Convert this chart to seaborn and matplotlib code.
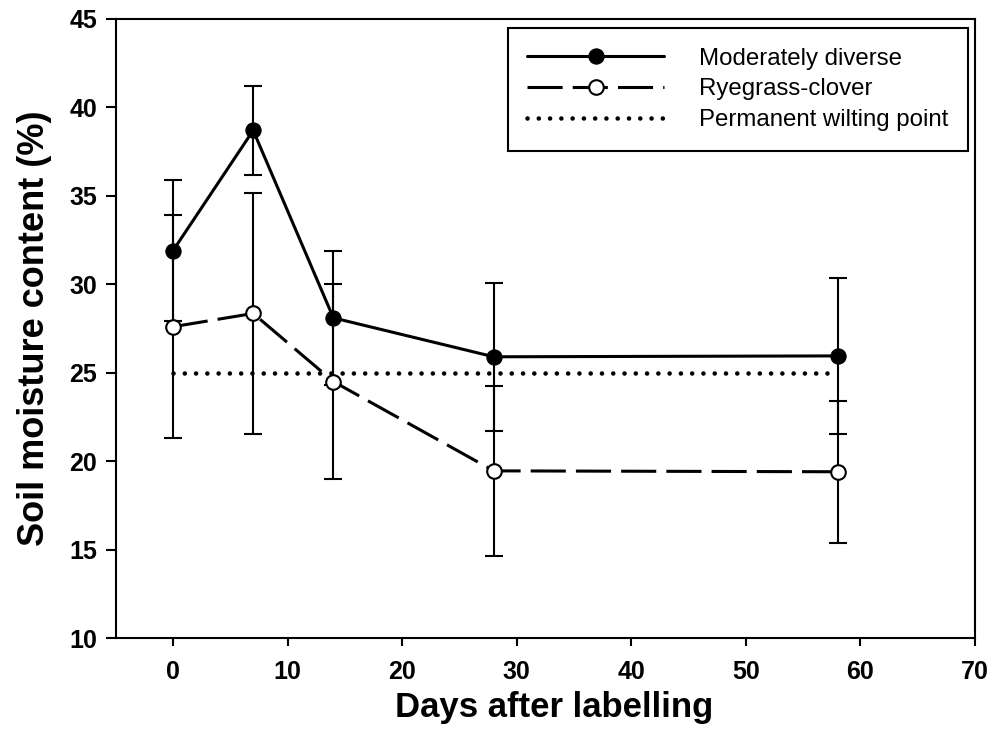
import matplotlib
matplotlib.use("Agg")
import matplotlib.pyplot as plt
import seaborn as sns
import pandas as pd

# Soil moisture over time after labelling
days = [0, 7, 14, 28, 58]
diverse_mean = [31.9, 38.7, 28.1, 25.9, 25.95]
diverse_err = [4.0, 2.5, 3.8, 4.2, 4.4]
ryegrass_mean = [27.6, 28.35, 24.5, 19.45, 19.4]
ryegrass_err = [6.3, 6.8, 5.5, 4.8, 4.0]
wilting_point = [25, 25, 25, 25, 25]

series_labels = ["Moderately diverse", "Ryegrass-clover", "Permanent wilting point"]
x_ticks = [0, 10, 20, 30, 40, 50, 60, 70]
y_ticks = [10, 15, 20, 25, 30, 35, 40, 45]

sns.set_style("ticks")
plt.rcParams["font.family"] = ["Liberation Sans", "DejaVu Sans"]
plt.rcParams["text.color"] = "black"
plt.rcParams["axes.labelcolor"] = "black"
plt.rcParams["xtick.color"] = "black"
plt.rcParams["ytick.color"] = "black"

fig = plt.figure(figsize=(9.93, 7.47), dpi=100)
ax = fig.add_axes([0.1165, 0.1459, 0.8654, 0.8287])

df_div = pd.DataFrame({"day": days, "moisture": diverse_mean})
df_rye = pd.DataFrame({"day": days, "moisture": ryegrass_mean})
df_pwp = pd.DataFrame({"day": days, "moisture": wilting_point})

lw = 2.2
# error bars first so the markers sit on top of them
ax.errorbar(days, diverse_mean, yerr=diverse_err, fmt="none", ecolor="black",
            elinewidth=1.5, capsize=6.8, capthick=1.5, zorder=2)
ax.errorbar(days, ryegrass_mean, yerr=ryegrass_err, fmt="none", ecolor="black",
            elinewidth=1.5, capsize=6.8, capthick=1.5, zorder=2)

sns.lineplot(data=df_pwp, x="day", y="moisture", ax=ax, color="black",
             linewidth=3.3, linestyle=(0, (0.01, 2.45)), dash_capstyle="round",
             label=series_labels[2], zorder=3)
sns.lineplot(data=df_rye, x="day", y="moisture", ax=ax, color="black",
             linewidth=lw, linestyle=(0, (11.5, 3.3)), marker="o", markersize=10.5,
             markerfacecolor="white", markeredgecolor="black", markeredgewidth=1.5,
             label=series_labels[1], zorder=4)
sns.lineplot(data=df_div, x="day", y="moisture", ax=ax, color="black",
             linewidth=lw, linestyle="-", marker="o", markersize=11,
             markerfacecolor="black", markeredgecolor="black",
             label=series_labels[0], zorder=5)

ax.set_xlim(-5, 70)
ax.set_ylim(10, 45)
ax.set_xticks(x_ticks)
ax.set_yticks(y_ticks)
ax.set_xticklabels([str(t) for t in x_ticks], fontsize=18, fontweight="bold")
ax.set_yticklabels([str(t) for t in y_ticks], fontsize=18, fontweight="bold")
ax.tick_params(axis="x", direction="out", length=6, width=1.5, pad=10)
ax.tick_params(axis="y", direction="out", length=7.5, width=1.5, pad=6)

for side in ["left", "right", "top", "bottom"]:
    ax.spines[side].set_visible(True)
    ax.spines[side].set_color("black")
    ax.spines[side].set_linewidth(1.5)

ax.set_xlabel("Days after labelling", fontsize=25, fontweight="bold", labelpad=4)
ax.xaxis.set_label_coords(0.51, -0.085)
ax.set_ylabel("Soil moisture content (%)", fontsize=26, fontweight="bold", labelpad=12)

handles, labels = ax.get_legend_handles_labels()
order = [labels.index(l) for l in series_labels]
leg = ax.legend([handles[i] for i in order], [labels[i] for i in order],
                loc="upper right", bbox_to_anchor=(0.992, 0.9855), borderaxespad=0,
                fontsize=17.3, handlelength=5.7, handletextpad=1.45, labelspacing=0.36,
                borderpad=0.82, numpoints=1, frameon=True, fancybox=False,
                edgecolor="black", framealpha=1)
leg.get_frame().set_linewidth(1.5)

fig.savefig("out.png", dpi=100)
